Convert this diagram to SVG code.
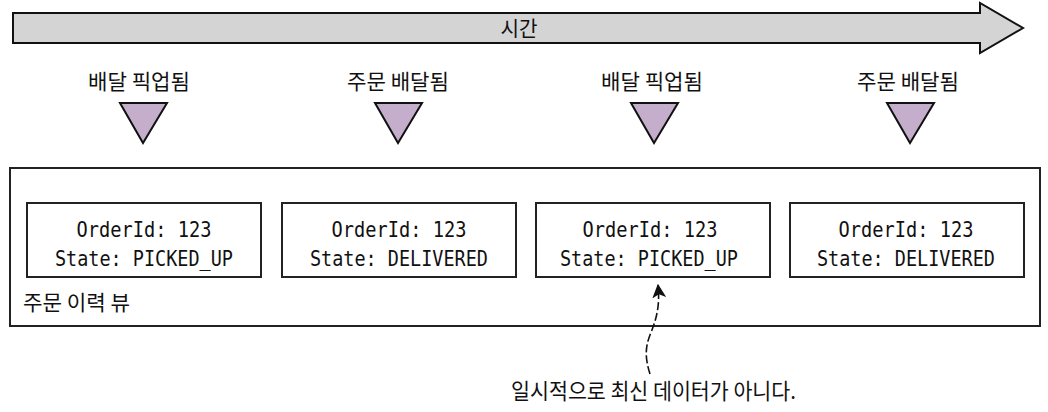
<svg xmlns="http://www.w3.org/2000/svg" width="1048" height="412" viewBox="0 0 1048 412">
<style>
.kr{font-family:"Noto Sans CJK KR","Noto Sans",sans-serif;font-size:21px;fill:#111}
.mono{font-family:"DejaVu Sans Mono","Liberation Mono",monospace;font-size:21px;fill:#111;text-anchor:middle}
.tri{fill:#c4aecb;stroke:#111;stroke-width:2;stroke-linejoin:miter}
.box{fill:#fff;stroke:#222;stroke-width:2}
</style>
<defs>
<marker id="ah" viewBox="0 0 12 12" refX="11" refY="6" markerWidth="14" markerHeight="14" markerUnits="userSpaceOnUse" orient="auto">
<path d="M0,0 L12,6 L0,12 L3,6 Z" fill="#111"/>
</marker>
</defs>
<rect width="1048" height="412" fill="#fff"/>
<g id="timeline">
<path d="M13,13 L980,13 L980,3 L1023,28 L980,53 L980,43 L13,43 Z" fill="#d4d4d4" stroke="#111" stroke-width="2"/>
<text class="kr" x="519" y="36" text-anchor="middle" textLength="37" lengthAdjust="spacingAndGlyphs">시간</text>
</g>
<g id="event1"><text class="kr" x="139" y="89" text-anchor="middle" textLength="102" lengthAdjust="spacingAndGlyphs">배달 픽업됨</text><path class="tri" d="M120,103 L167,103 L143,143 Z"/></g>
<g id="event2"><text class="kr" x="398" y="89" text-anchor="middle" textLength="102" lengthAdjust="spacingAndGlyphs">주문 배달됨</text><path class="tri" d="M375,103 L422,103 L398,143 Z"/></g>
<g id="event3"><text class="kr" x="652" y="89" text-anchor="middle" textLength="102" lengthAdjust="spacingAndGlyphs">배달 픽업됨</text><path class="tri" d="M631,103 L678,103 L654,143 Z"/></g>
<g id="event4"><text class="kr" x="908" y="89" text-anchor="middle" textLength="102" lengthAdjust="spacingAndGlyphs">주문 배달됨</text><path class="tri" d="M887,103 L934,103 L910,143 Z"/></g>
<g id="history-view">
<rect class="box" x="10" y="168" width="1030" height="158"/>
<text class="kr" x="23" y="310" textLength="107" lengthAdjust="spacingAndGlyphs">주문 이력 뷰</text>
</g>
<g id="record1"><rect class="box" x="27" y="203" width="234" height="74"/><text class="mono" x="144" y="237" textLength="135" lengthAdjust="spacingAndGlyphs">OrderId: 123</text><text class="mono" x="144" y="266" textLength="178" lengthAdjust="spacingAndGlyphs">State: PICKED_UP</text></g>
<g id="record2"><rect class="box" x="282" y="203" width="234" height="74"/><text class="mono" x="399" y="237" textLength="135" lengthAdjust="spacingAndGlyphs">OrderId: 123</text><text class="mono" x="399" y="266" textLength="178" lengthAdjust="spacingAndGlyphs">State: DELIVERED</text></g>
<g id="record3"><rect class="box" x="536" y="203" width="234" height="74"/><text class="mono" x="650" y="237" textLength="135" lengthAdjust="spacingAndGlyphs">OrderId: 123</text><text class="mono" x="649" y="266" textLength="178" lengthAdjust="spacingAndGlyphs">State: PICKED_UP</text></g>
<g id="record4"><rect class="box" x="790" y="203" width="234" height="74"/><text class="mono" x="906" y="237" textLength="135" lengthAdjust="spacingAndGlyphs">OrderId: 123</text><text class="mono" x="906" y="266" textLength="178" lengthAdjust="spacingAndGlyphs">State: DELIVERED</text></g>
<g id="connectors">
<path d="M650,374 C645,358 645,348 650,335 C657,318 660,305 658,285" fill="none" stroke="#111" stroke-width="1.6" stroke-dasharray="8,3" marker-end="url(#ah)"/>
</g>
<g id="note"><text class="kr" x="511" y="399" style="font-size:22px" textLength="285" lengthAdjust="spacingAndGlyphs">일시적으로 최신 데이터가 아니다.</text></g>
</svg>
